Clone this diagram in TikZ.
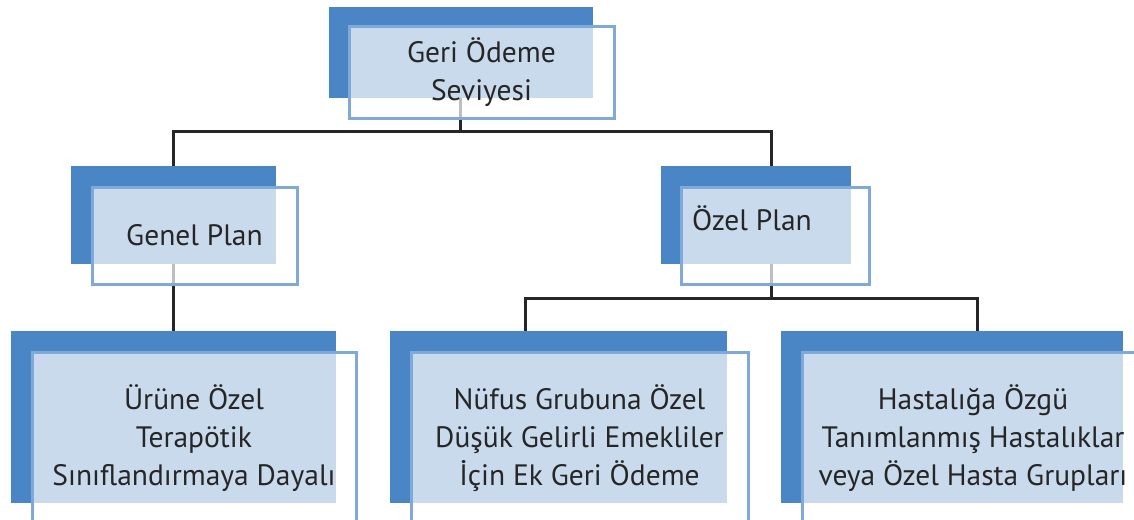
\documentclass[tikz,border=0pt]{standalone}
\usepackage{fontspec}
\setmainfont{PT Sans}
\usetikzlibrary{backgrounds}
\definecolor{darkblue}{HTML}{4A86C5}
\definecolor{edgeblue}{HTML}{7FA9D8}
\definecolor{ink}{HTML}{262626}

\begin{document}
\begin{tikzpicture}[x=1pt,y=-1pt,
  back/.style={fill=darkblue, draw=none, inner sep=0pt, outer sep=0pt, anchor=north west},
  front/.style={fill=white, fill opacity=0.7, text opacity=1, draw=edgeblue, draw opacity=1,
    line width=3pt, inner sep=0pt, outer sep=0pt, anchor=north west, text=ink,
    font=\fontsize{29.5}{38}\selectfont, align=center},
  lbl/.style={text=ink, font=\fontsize{29.5}{38}\selectfont, align=center, inner sep=0pt},
  wire/.style={draw=ink, line width=3pt}]
\useasboundingbox (0,0) rectangle (1134,519);
\clip (0,0) rectangle (1134,519);

% root
\node[back, minimum width=264pt, minimum height=91pt] (topD) at (329,7) {};
\node[front, minimum width=265pt, minimum height=91pt] (top) at (349,27) {Geri Ödeme\\Seviyesi};

% second level
\node[back, minimum width=205pt, minimum height=98pt] (genD) at (71,166) {};
\node[front, minimum width=205pt, minimum height=97pt] (gen) at (92,187) {Genel Plan};

\node[back, minimum width=190pt, minimum height=98pt] (ozelD) at (661,166) {};
\node[front, minimum width=188pt, minimum height=97pt] (ozel) at (681,187) {};
\node[lbl] (ozelT) at (752,218) {Özel Plan};

% third level
\node[back, minimum width=325pt, minimum height=172pt] (b1D) at (11,331) {};
\node[front, minimum width=324pt, minimum height=172pt] (b1) at (32,352)
  {Ürüne Özel\\Terapötik\\Sınıflandırmaya Dayalı};

\node[back, minimum width=337pt, minimum height=172pt] (b2D) at (390,331) {};
\node[front, minimum width=337pt, minimum height=172pt] (b2) at (411,352)
  {Nüfus Grubuna Özel\\Düşük Gelirli Emekliler\\İçin Ek Geri Ödeme};

\node[back, minimum width=342pt, minimum height=172pt] (b3D) at (781,331) {};
\node[front, minimum width=342pt, minimum height=172pt] (b3) at (802,352)
  {Hastalığa Özgü\\Tanımlanmış Hastalıklar\\veya Özel Hasta Grupları};

% connectors, drawn behind the boxes
\coordinate (j0) at (460,131);
\coordinate (j1) at (771,298);
\coordinate (j2) at (525,298);
\coordinate (j3) at (977,298);
\begin{scope}[on background layer]
  \draw[wire] (topD.south -| j0) -- (j0);
  \draw[wire] (genD.north) |- (j0) -| (ozelD.north -| j1);
  \draw[wire] (genD.south) -- (b1D.north -| genD.south);
  \draw[wire] (ozelD.south -| j1) -- (j1);
  \draw[wire] (b2D.north -| j2) -- (j2) -- (j3) -- (b3D.north -| j3);
\end{scope}
\end{tikzpicture}
\end{document}
